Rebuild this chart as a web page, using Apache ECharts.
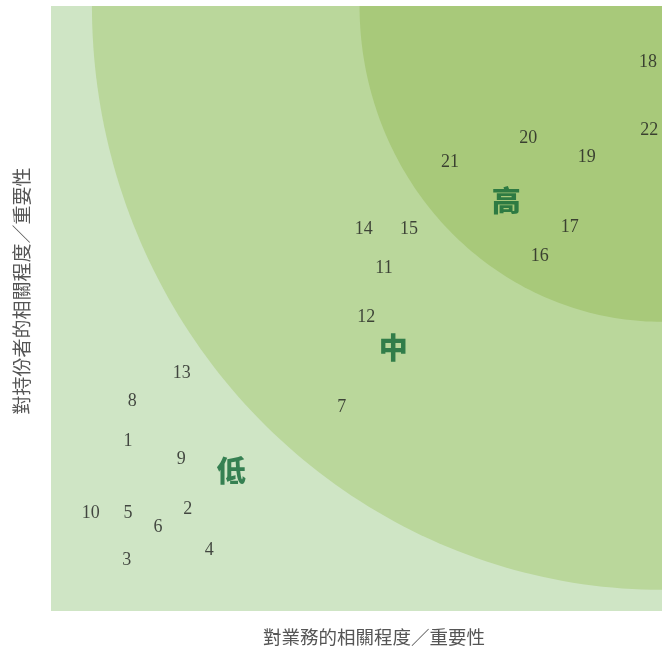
<!DOCTYPE html>
<html>
<head>
<meta charset="utf-8">
<style>
html,body{margin:0;padding:0;background:#fff;}
#chart{width:662px;height:651px;}
</style>
<script src="https://cdn.jsdelivr.net/npm/echarts@6/dist/echarts.min.js"></script>
</head>
<body>
<div id="chart"></div>
<script>
// Issue numbers and their positions (relevance to business, relevance to stakeholders)
const pointIds = ['1','2','3','4','5','6','7','8','9','10','11','12','13','14','15','16','17','18','19','20','21','22'];
const xValues = [12.6, 22.4, 12.4, 25.9, 12.6, 17.5, 47.6, 13.3, 21.3, 6.5, 54.5, 51.6, 21.4, 51.2, 58.6, 80.0, 84.9, 97.7, 87.7, 78.1, 65.3, 97.9];
const yValues = [28.1, 16.8, 8.4, 10.0, 16.2, 13.8, 33.7, 34.7, 25.1, 16.2, 56.7, 48.6, 39.3, 63.1, 63.1, 58.6, 63.4, 90.7, 75.0, 78.1, 74.2, 79.5];

// Zone labels
const levelNames = ['高', '中', '低'];
const levelX = [74.5, 56.0, 29.5];
const levelY = [67.8, 43.5, 23.1];

// Zones (quarter ellipses anchored at top-right corner), radii in axis units
const zoneRadiusX = [93.3, 49.5];
const zoneRadiusY = [96.5, 52.2];

const xTitle = '對業務的相關程度／重要性';
const yTitle = '對持份者的相關程度／重要性';

const zoneColors = ['#bad79b', '#a8c97a'];

const chart = echarts.init(document.getElementById('chart'), null, {renderer: 'canvas'});

const option = {
  animation: false,
  grid: {left: 51, right: 0, top: 6, bottom: 40, show: true, borderWidth: 0, backgroundColor: '#cfe5c5'},
  xAxis: {type: 'value', min: 0, max: 100, show: false},
  yAxis: {type: 'value', min: 0, max: 100, show: false},
  series: [
    {
      type: 'custom',
      silent: true,
      data: zoneRadiusX.map((rx, i) => [rx, zoneRadiusY[i], i]),
      renderItem: function (params, api) {
        const rx = api.value(0), ry = api.value(1), idx = api.value(2);
        const pts = [api.coord([100, 100])];
        const n = 90;
        for (let k = 0; k <= n; k++) {
          const t = k / n * Math.PI / 2;
          pts.push(api.coord([100 - rx * Math.cos(t), 100 - ry * Math.sin(t)]));
        }
        return {type: 'polygon', shape: {points: pts}, style: {fill: zoneColors[idx]}};
      },
      z: 1
    },
    {
      type: 'scatter',
      symbol: 'circle',
      symbolSize: 1,
      itemStyle: {color: 'rgba(0,0,0,0)'},
      data: pointIds.map((id, i) => ({name: id, value: [xValues[i], yValues[i]]})),
      label: {
        show: true,
        position: 'inside',
        formatter: '{b}',
        color: '#1e1e1e',
        fontFamily: 'Liberation Serif',
        fontSize: 18
      },
      z: 3
    },
    {
      type: 'scatter',
      symbol: 'circle',
      symbolSize: 1,
      itemStyle: {color: 'rgba(0,0,0,0)'},
      data: levelNames.map((n, i) => ({name: n, value: [levelX[i], levelY[i]]})),
      label: {
        show: true,
        position: 'inside',
        formatter: '{b}',
        color: '#0f6634',
        fontFamily: 'Noto Sans CJK TC',
        fontWeight: 900,
        fontSize: 29
      },
      z: 3
    }
  ],
  graphic: [
    {
      type: 'text',
      x: 374, y: 637,
      style: {text: xTitle, fill: '#555', font: '18.5px "Noto Sans CJK TC"', textAlign: 'center', textVerticalAlign: 'middle'}
    },
    {
      type: 'text',
      x: 22, y: 291,
      rotation: Math.PI / 2,
      style: {text: yTitle, fill: '#555', font: '19px "Noto Sans CJK TC"', textAlign: 'center', textVerticalAlign: 'middle'}
    }
  ]
};
chart.setOption(option);
</script>
</body>
</html>
